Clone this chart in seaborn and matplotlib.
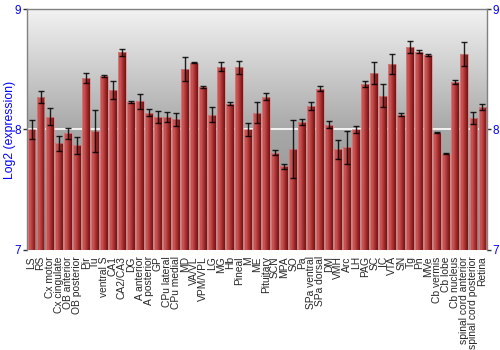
import numpy as np
import pandas as pd
import matplotlib
matplotlib.use("Agg")
import matplotlib.pyplot as plt
import seaborn as sns
from matplotlib.colors import LinearSegmentedColormap

regions = ["LS", "RS", "Cx motor", "Cx cingulate", "OB anterior", "OB posterior",
           "Pir", "Tu", "ventral S", "CA1", "CA2/CA3", "DG", "A anterior",
           "A posterior", "GP", "CPu lateral", "CPu medial", "MD", "VA/VL",
           "VPM/VPL", "LG", "MG", "Hb", "Pineal", "M", "ME", "Pituitary", "SCN",
           "MPA", "SO", "Pa", "SPa ventral", "SPa dorsal", "DM", "VMH", "Arc",
           "LH", "PAG", "SC", "IC", "VTA", "SN", "Tg", "Pn", "MVe", "Cb vermis",
           "Cb lobe", "Cb nucleus", "spinal cord anterior", "spinal cord posterior",
           "Retina"]
values = [8.00, 8.273, 8.105, 7.887, 7.967, 7.868, 8.427, 7.99, 8.444, 8.328,
          8.642, 8.229, 8.234, 8.14, 8.105, 8.105, 8.085, 8.504, 8.554, 8.353,
          8.124, 8.52, 8.215, 8.515, 8.00, 8.14, 8.273, 7.807, 7.694, 7.835,
          8.063, 8.198, 8.339, 8.041, 7.835, 7.851, 8.00, 8.377, 8.471, 8.281,
          8.548, 8.124, 8.683, 8.647, 8.62, 7.972, 7.80, 8.394, 8.628, 8.096,
          8.187]
errors = [0.077, 0.05, 0.07, 0.063, 0.044, 0.07, 0.043, 0.176, 0.011, 0.073,
          0.03, 0.005, 0.06, 0.028, 0.052, 0.044, 0.055, 0.10, 0.003, 0.011,
          0.065, 0.037, 0.011, 0.05, 0.052, 0.088, 0.028, 0.022, 0.02, 0.24,
          0.022, 0.033, 0.02, 0.028, 0.08, 0.136, 0.03, 0.022, 0.09, 0.094,
          0.083, 0.014, 0.048, 0.01, 0.006, 0.004, 0.003, 0.019, 0.098, 0.048,
          0.025]
y_ticks = [7, 8, 9]

sns.set_style("white")
plt.rcParams['font.family'] = ['Liberation Sans', 'DejaVu Sans']

df = pd.DataFrame({"region": regions, "value": values})

fig = plt.figure(figsize=(5, 3.5), dpi=100)
ax = fig.add_axes([0.054, 0.286, 0.92, 0.688])

sns.barplot(data=df, x="region", y="value", color="#b03535", width=0.88,
            edgecolor="#d88a8a", linewidth=0.5, errorbar=None, ax=ax, zorder=2)

ax.set_ylim(7, 9)
ax.set_xlim(-0.5, len(regions) - 0.5)

# background vertical gradient
bg_cmap = LinearSegmentedColormap.from_list(
    "bg", [(0.0, "#8a8a8a"), (0.5, "#a8a8a8"), (1.0, "#f2f2f2")])
grad = np.linspace(0, 1, 256).reshape(-1, 1)
ax.imshow(grad, cmap=bg_cmap, origin="lower", aspect="auto",
          extent=[-0.5, len(regions) - 0.5, 7, 9], zorder=0)

# horizontal gradient inside each bar
bar_cmap = LinearSegmentedColormap.from_list(
    "bar", [(0.0, "#b84545"), (0.25, "#cc5858"), (0.6, "#a83030"), (1.0, "#741212")])
hgrad = np.linspace(0, 1, 64).reshape(1, -1)
for p in ax.patches:
    x0 = p.get_x()
    w = p.get_width()
    top = p.get_height()
    im = ax.imshow(hgrad, cmap=bar_cmap, aspect="auto",
                   extent=[x0, x0 + w, 7, top], zorder=2.5)
    im.set_clip_path(p)
    p.set_zorder(3)
    p.set_facecolor("none")

ax.axhline(8, color="white", lw=1.2, zorder=1)

ax.errorbar(np.arange(len(regions)), values, yerr=errors, fmt="none",
            ecolor="black", elinewidth=1, capsize=2.3, capthick=1, alpha=0.85,
            zorder=4)

ax.set_ylim(7, 9)
ax.set_xlim(-0.5, len(regions) - 0.5)
ax.set_yticks(y_ticks)
ax.set_yticklabels([str(t) for t in y_ticks])
ax.tick_params(axis="y", left=True, right=True, labelleft=True, labelright=True,
               length=3, width=1, color="#333333", labelcolor="blue",
               labelsize=8.5, pad=1)
ax.tick_params(axis="x", bottom=False, labelrotation=90, labelsize=7.4, pad=1)
for lab in ax.get_xticklabels():
    lab.set_verticalalignment("top")

ax.set_xlabel("")
ax.set_ylabel("Log2 (expression)", color="blue", fontsize=8.8, labelpad=1)
ax.yaxis.set_label_coords(-0.024, 0.5)

for s in ["left", "right", "top"]:
    ax.spines[s].set_visible(True)
    ax.spines[s].set_color("#808080")
    ax.spines[s].set_linewidth(1)
ax.spines["bottom"].set_visible(False)

fig.savefig("out.png", dpi=100)
